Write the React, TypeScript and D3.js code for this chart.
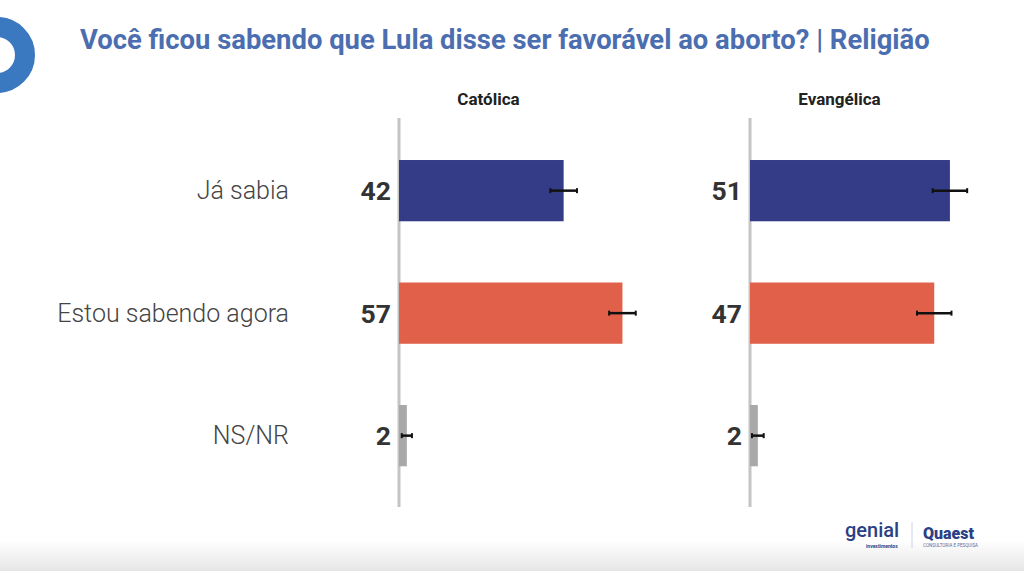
import React from "react";
import * as d3 from "d3";

const categories = ["Já sabia", "Estou sabendo agora", "NS/NR"];
const panels = ["Católica", "Evangélica"];
const catolica = [42, 57, 2];
const evangelica = [51, 47, 2];
const catolicaErr = [3.4, 3.4, 1.3];
const evangelicaErr = [4.4, 4.4, 1.5];
const colors = ["#343b87", "#e0604a", "#a8a8a8"];

const W = 1024;
const H = 571;

export default function App() {
  const x = d3.scaleLinear().domain([0, 100]).range([0, 392]);
  const y = d3.scaleBand<string>().domain(categories).range([129.4, 496.9]).paddingInner(0.5).paddingOuter(0.25);
  const panelX = d3.scaleOrdinal<string, number>().domain(panels).range([399, 750]);
  const series = [catolica, evangelica];
  const errs = [catolicaErr, evangelicaErr];
  const font = "Roboto, 'Noto Sans', sans-serif";

  return (
    <svg width={W} height={H} style={{ position: "absolute", left: 0, top: 0, background: "#fff" }} fontFamily={font}>
      <defs>
        <linearGradient id="bot" x1="0" y1="0" x2="0" y2="1">
          <stop offset="0" stopColor="#ffffff" />
          <stop offset="1" stopColor="#e6e6e6" />
        </linearGradient>
      </defs>
      <rect x={0} y={540} width={W} height={31} fill="url(#bot)" />
      {/* ring */}
      <circle cx={-3} cy={55} r={28} fill="none" stroke="#3a78c0" strokeWidth={20} />
      <text x={80} y={49} fontSize={27.4} fontWeight={700} fill="#4b6eb0">
        Você ficou sabendo que Lula disse ser favorável ao aborto? | Religião
      </text>
      {categories.map((c) => (
        <text key={c} x={289} y={(y(c) as number) + y.bandwidth() / 2} textAnchor="end" dominantBaseline="central" fontSize={25} fontWeight={300} fill="#444">
          {c}
        </text>
      ))}
      {panels.map((p, pi) => {
        const x0 = panelX(p);
        return (
          <g key={p}>
            <text x={x0 + 89.5} y={104.5} textAnchor="middle" fontSize={17} fontWeight={700} fill="#222">
              {p}
            </text>
            <line x1={x0} x2={x0} y1={118} y2={507} stroke="#c4c4c4" strokeWidth={3} />
            {categories.map((c, ci) => {
              const v = series[pi][ci];
              const e = errs[pi][ci];
              const yy = y(c) as number;
              const cy = yy + y.bandwidth() / 2;
              return (
                <g key={c}>
                  <rect x={x0} y={yy} width={x(v)} height={y.bandwidth()} fill={colors[ci]} />
                  <line x1={x0 + x(v - e)} x2={x0 + x(v + e)} y1={cy} y2={cy} stroke="#111" strokeWidth={2.5} />
                  <line x1={x0 + x(v - e)} x2={x0 + x(v - e)} y1={cy - 2.5} y2={cy + 2.5} stroke="#111" strokeWidth={2} />
                  <line x1={x0 + x(v + e)} x2={x0 + x(v + e)} y1={cy - 2.5} y2={cy + 2.5} stroke="#111" strokeWidth={2} />
                  <text x={x0 - 8} y={cy} textAnchor="end" dominantBaseline="central" fontSize={26.5} fontWeight={700} fill="#333">
                    {v}
                  </text>
                </g>
              );
            })}
          </g>
        );
      })}
      {/* logos */}
      <text x={845} y={537} fontSize={20} fontWeight={500} fill="#2b3f86">genial</text>
      <text x={866} y={548} fontSize={5} fontWeight={700} fill="#2b3f86">investimentos</text>
      <line x1={912} x2={912} y1={522} y2={548} stroke="#c8d4e6" strokeWidth={1} />
      <text x={923} y={539} fontSize={16} fontWeight={900} fill="#2b3f86">Quaest</text>
      <text x={923} y={547} fontSize={4.5} fill="#5a6a9a">CONSULTORIA E PESQUISA</text>
    </svg>
  );
}
